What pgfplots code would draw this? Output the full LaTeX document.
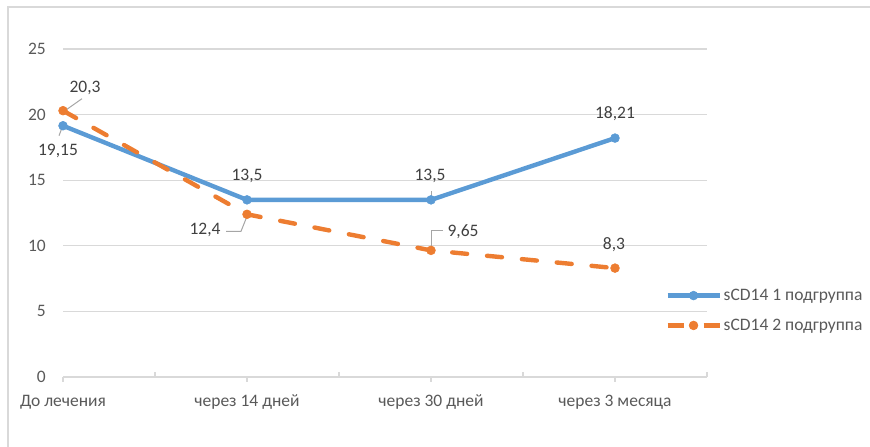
\documentclass[border=0pt]{standalone}
\usepackage{pgfplots}
\pgfplotsset{compat=1.18}
\usepackage{fontspec}
\setmainfont{Carlito}

\definecolor{seriesA}{HTML}{5B9BD5}
\definecolor{seriesB}{HTML}{ED7D31}
\definecolor{gridgray}{HTML}{D9D9D9}
\definecolor{ticktext}{HTML}{595959}
\definecolor{labeltext}{HTML}{404040}
\definecolor{leadergray}{HTML}{A6A6A6}

% legend samples: solid line with a central marker, dashed line with a central marker
\pgfplotsset{
  legSolid/.style={legend image code/.code={
      \draw[##1, mark=none] (0pt,0pt) -- (52pt,0pt);
      \draw[##1, draw=none, mark repeat=2, mark phase=2] plot coordinates {(0pt,0pt) (26pt,0pt) (52pt,0pt)};}},
  legDashed/.style={legend image code/.code={
      \draw[##1, mark=none, dash pattern=on 16pt off 20pt, line cap=butt] (0pt,0pt) -- (52pt,0pt);
      \draw[##1, draw=none, mark repeat=2, mark phase=2] plot coordinates {(0pt,0pt) (26pt,0pt) (52pt,0pt)};}},
}

\begin{document}
\begin{tikzpicture}[x=1pt,y=1pt,
  lbl/.style={font=\fontsize{17.5}{20}\selectfont, text=labeltext, inner sep=0pt},
  leader/.style={draw=leadergray, line width=1pt}]
  \path[use as bounding box] (0,0) rectangle (870,447);
  % chart frame
  \draw[gridgray, line width=1.5pt] (8,0) -- (8,440) -- (870,440);

  \begin{axis}[
    at={(63pt,70pt)}, anchor=south west,
    scale only axis, width=644pt, height=328pt,
    xmin=0, xmax=3.5, ymin=0, ymax=25,
    xtick={0,1,2,3},
    xticklabels={До лечения, через 14 дней, через 30 дней, через 3 месяца},
    extra x ticks={0.5,1.5,2.5,3.5},
    extra x tick labels={},
    extra x tick style={tick align=inside, xmajorgrids=false},
    ytick={0,5,10,15,20,25},
    ymajorgrids,
    grid style={gridgray, line width=1.2pt},
    axis x line*=bottom,
    axis y line*=left,
    y axis line style={draw=none},
    x axis line style={gridgray, line width=1.2pt, -},
    tick align=outside,
    major tick length=5pt,
    xtick style={gridgray, line width=1.2pt},
    ytick style={draw=none},
    tick label style={font=\fontsize{17.5}{20}\selectfont, text=ticktext},
    xticklabel style={inner sep=0pt, anchor=base, yshift=-24pt},
    yticklabel style={inner sep=0pt, anchor=east, xshift=-12pt},
    /pgf/number format/assume math mode=true,
    legend style={at={(0.935,0.2027)}, anchor=west, draw=none, fill=none,
      font=\fontsize{17.5}{20}\selectfont, text=ticktext,
      row sep=13pt, inner sep=0pt, cells={anchor=west}},
    legend cell align=left,
    clip=false,
  ]
    \addplot[seriesA, line width=4.4pt, mark=*, mark size=4.4pt,
      mark options={line width=0.6pt}, legSolid]
      coordinates {(0,19.15) (1,13.5) (2,13.5) (3,18.21)};
    \addlegendentry{sCD14 1 подгруппа}

    \addplot[seriesB, line width=4.4pt, dash pattern=on 15pt off 20pt, line cap=round,
      mark=*, mark size=4.4pt, mark options={solid, line width=0.6pt}, legDashed]
      coordinates {(0,20.3) (1,12.4) (2,9.65) (3,8.3)};
    \addlegendentry{sCD14 2 подгруппа}

    % data labels, series 1
    \node[lbl] at ([shift={(-5pt,-25pt)}]axis cs:0,19.15) {19,15};
    \node[lbl] at ([shift={(0pt,24pt)}]axis cs:1,13.5) {13,5};
    \node[lbl] at ([shift={(-1pt,24pt)}]axis cs:2,13.5) {13,5};
    \node[lbl] at ([shift={(0pt,24pt)}]axis cs:3,18.21) {18,21};
    % data labels, series 2
    \node[lbl] at ([shift={(22pt,23pt)}]axis cs:0,20.3) {20,3};
    \node[lbl] at ([shift={(-42pt,-16pt)}]axis cs:1,12.4) {12,4};
    \node[lbl] at ([shift={(32pt,19pt)}]axis cs:2,9.65) {9,65};
    \node[lbl] at ([shift={(-1pt,23pt)}]axis cs:3,8.3) {8,3};
    % leader lines
    \draw[leader] ([shift={(2pt,0pt)}]axis cs:0,20.3) -- ([shift={(19pt,12pt)}]axis cs:0,20.3);
    \draw[leader] ([shift={(-1pt,-2pt)}]axis cs:0,19.15) -- ([shift={(-4pt,-10pt)}]axis cs:0,19.15);
    \draw[leader] ([shift={(0pt,-2pt)}]axis cs:1,12.4) -- ([shift={(-6pt,-17pt)}]axis cs:1,12.4) -- ([shift={(-21pt,-17pt)}]axis cs:1,12.4);
    \draw[leader] ([shift={(0pt,2pt)}]axis cs:2,9.65) -- ([shift={(0pt,20pt)}]axis cs:2,9.65) -- ([shift={(12pt,20pt)}]axis cs:2,9.65);
    \draw[leader] ([shift={(0pt,3pt)}]axis cs:2,13.5) -- ([shift={(0pt,9pt)}]axis cs:2,13.5);
  \end{axis}
\end{tikzpicture}
\end{document}
